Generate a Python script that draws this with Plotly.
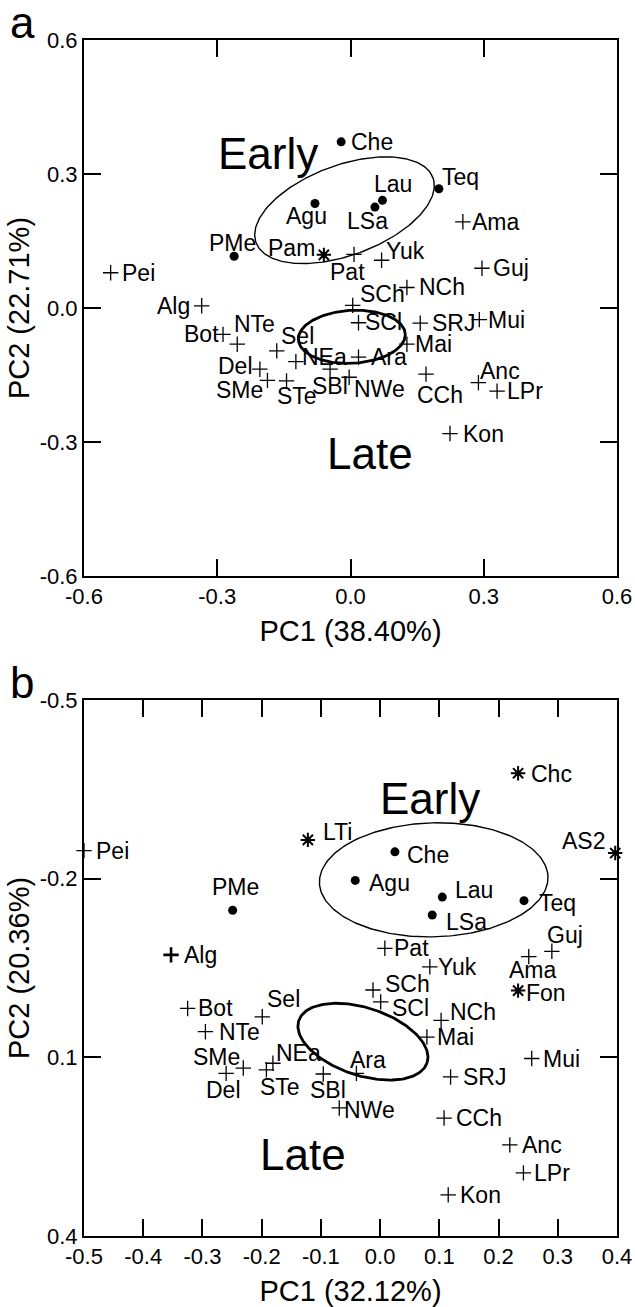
import numpy as np
import plotly.graph_objects as go
from plotly.subplots import make_subplots

# ---------------- Panel a data ----------------
a_names = ["Che", "Agu", "Lau", "LSa", "Teq", "PMe",
           "Pam",
           "Pei", "Alg", "Ama", "Pat", "Yuk", "Guj", "SCh", "NCh", "SCl", "SRJ", "Mui",
           "Bot", "NTe", "Sel", "Del", "NEa", "SBl", "NWe", "Ara", "Mai", "SMe", "STe",
           "CCh", "Anc", "LPr", "Kon"]
a_pc1 = [-0.021, -0.080, 0.072, 0.055, 0.199, -0.262,
         -0.060,
         -0.540, -0.335, 0.253, 0.008, 0.070, 0.296, 0.005, 0.127, 0.018, 0.157, 0.290,
         -0.287, -0.255, -0.166, -0.204, -0.123, -0.046, -0.003, 0.018, 0.127, -0.187, -0.144,
         0.170, 0.288, 0.330, 0.224]
a_pc2 = [0.372, 0.234, 0.241, 0.226, 0.267, 0.116,
         0.119,
         0.079, 0.005, 0.193, 0.120, 0.107, 0.089, 0.006, 0.046, -0.033, -0.034, -0.026,
         -0.059, -0.081, -0.096, -0.137, -0.120, -0.137, -0.155, -0.110, -0.081, -0.162, -0.163,
         -0.148, -0.167, -0.186, -0.281]
a_kind = ["dot"] * 6 + ["star"] + ["plus"] * 26

# ---------------- Panel b data ----------------
b_names = ["Che", "Agu", "Lau", "LSa", "Teq", "PMe",
           "LTi", "Chc", "AS2", "Fon",
           "Pei", "Alg", "Pat", "Yuk", "SCh", "SCl", "NCh", "Mai", "Bot", "NTe", "Sel",
           "SMe", "Del", "NEa", "STe", "SBl", "Ara", "SRJ", "Mui", "CCh", "Anc", "LPr",
           "Kon", "NWe", "Guj", "Ama"]
b_pc1 = [0.025, -0.042, 0.105, 0.088, 0.243, -0.249,
         -0.122, 0.233, 0.397, 0.233,
         -0.500, -0.353, 0.008, 0.084, -0.012, 0.001, 0.103, 0.079, -0.325, -0.295, -0.199,
         -0.231, -0.260, -0.181, -0.192, -0.096, -0.040, 0.119, 0.256, 0.108, 0.219, 0.242,
         0.115, -0.069, 0.290, 0.251]
b_pc2 = [-0.245, -0.197, -0.169, -0.139, -0.163, -0.147,
         -0.265, -0.377, -0.243, -0.012,
         -0.247, -0.072, -0.083, -0.052, -0.013, 0.007, 0.038, 0.066, 0.018, 0.057, 0.032,
         0.118, 0.127, 0.110, 0.121, 0.128, 0.127, 0.133, 0.102, 0.202, 0.247, 0.294,
         0.331, 0.185, -0.078, -0.069]
b_kind = ["dot"] * 6 + ["star"] * 4 + ["plus", "plus_bold"] + ["plus"] * 24

# Group ellipses: centre (PC1, PC2), semi-axes, rotation (degrees, data space)
a_early_ell = dict(cx=-0.0135, cy=0.219, a=0.212, b=0.101, ang=20)
a_late_ell = dict(cx=0.003, cy=-0.0645, a=0.1205, b=0.0593, ang=3)
b_early_ell = dict(cx=0.0905, cy=-0.198, a=0.193, b=0.0957, ang=-1.5)
b_late_ell = dict(cx=-0.029, cy=0.0737, a=0.114, b=0.0568, ang=18)

# Axis ticks
a_ticks = [-0.6, -0.3, 0.0, 0.3, 0.6]
a_ticktext = ["-0.6", "-0.3", "0.0", "0.3", "0.6"]
b_xticks = [-0.5, -0.4, -0.3, -0.2, -0.1, 0.0, 0.1, 0.2, 0.3, 0.4]
b_xticktext = ["-0.5", "-0.4", "-0.3", "-0.2", "-0.1", "0.0", "0.1", "0.2", "0.3", "0.4"]
b_yticks = [-0.5, -0.2, 0.1, 0.4]
b_yticktext = ["-0.5", "-0.2", "0.1", "0.4"]

a_xtitle, a_ytitle = "PC1 (38.40%)", "PC2 (22.71%)"
b_xtitle, b_ytitle = "PC1 (32.12%)", "PC2 (20.36%)"

# ---------------- style: label offsets (px right, px down) ----------------
a_off = {"Che": (31, 0), "Agu": (-8, 13), "Lau": (11, -16), "LSa": (-7, 14), "Teq": (22, -12),
         "PMe": (-2, -13), "Pam": (-32, -7), "Pei": (28, 0), "Alg": (-28, 0), "Ama": (33, 0),
         "Pat": (-7, 18), "Yuk": (24, -9), "Guj": (29, 0), "SCh": (30, -11), "NCh": (35, 0),
         "SCl": (25, -1), "SRJ": (33, 0), "Mui": (27, 0), "Bot": (-22, 0), "NTe": (17, -20),
         "Sel": (21, -15), "Del": (-24, -3), "NEa": (29, -5), "SBl": (0, 17), "NWe": (30, 12),
         "Ara": (30, 0), "Mai": (27, 0), "SMe": (-28, 10), "STe": (10, 15), "CCh": (14, 21),
         "Anc": (22, -12), "LPr": (28, 0), "Kon": (34, 0)}
b_off = {"Pei": (28, 0), "LTi": (30, -8), "PMe": (3, -23), "Agu": (34, 3), "Chc": (33, 1),
         "AS2": (-32, -12), "Che": (33, 3), "Lau": (32, -7), "LSa": (34, 7), "Teq": (33, 2),
         "Alg": (29, 0), "Pat": (27, 0), "Yuk": (28, 0), "SCh": (34, -6), "SCl": (30, 6),
         "NCh": (32, -8), "Mai": (29, 0), "Bot": (28, 0), "NTe": (34, 0), "Sel": (21, -18),
         "SMe": (-27, -11), "Del": (-3, 17), "NEa": (26, -10), "STe": (14, 17), "SBl": (5, 16),
         "Ara": (12, -13), "SRJ": (34, 0), "Mui": (30, 0), "CCh": (35, 0), "Anc": (32, 0),
         "LPr": (29, 0), "Kon": (32, 0), "NWe": (30, 2), "Guj": (13, -16), "Ama": (4, 13),
         "Fon": (28, 2)}

FONT = "Liberation Sans, Arial, Helvetica, sans-serif"
LABEL_SIZE = 23

fig = make_subplots(rows=2, cols=1, vertical_spacing=0.1036)

marker_style = {
    "dot": dict(symbol="circle", size=9, color="black", line=dict(width=0)),
    "plus": dict(symbol="cross-thin", size=11, color="black", line=dict(width=1.3, color="black")),
    "plus_bold": dict(symbol="cross-thin", size=11, color="black", line=dict(width=2.6, color="black")),
    "star": dict(symbol="asterisk-open", size=12, color="black", line=dict(width=2, color="black")),
}


def add_points(names, xs, ys, kinds, row):
    for kind in ["plus", "plus_bold", "star", "dot"]:
        idx = [i for i, k in enumerate(kinds) if k == kind]
        if not idx:
            continue
        fig.add_trace(go.Scatter(
            x=[xs[i] for i in idx], y=[ys[i] for i in idx], mode="markers",
            marker=marker_style[kind], hoverinfo="text",
            text=[names[i] for i in idx], showlegend=False, cliponaxis=False),
            row=row, col=1)


def add_ellipse(e, row, width):
    t = np.linspace(0, 2 * np.pi, 241)
    th = np.deg2rad(e["ang"])
    ex = e["cx"] + e["a"] * np.cos(t) * np.cos(th) - e["b"] * np.sin(t) * np.sin(th)
    ey = e["cy"] + e["a"] * np.cos(t) * np.sin(th) + e["b"] * np.sin(t) * np.cos(th)
    fig.add_trace(go.Scatter(x=ex, y=ey, mode="lines", line=dict(color="black", width=width),
                             hoverinfo="skip", showlegend=False), row=row, col=1)


add_ellipse(a_early_ell, 1, 1.4)
add_ellipse(a_late_ell, 1, 2.8)
add_ellipse(b_early_ell, 2, 1.4)
add_ellipse(b_late_ell, 2, 2.8)
add_points(a_names, a_pc1, a_pc2, a_kind, 1)
add_points(b_names, b_pc1, b_pc2, b_kind, 2)

annotations = []


def add_labels(names, xs, ys, off, xref, yref):
    for n, x, y in zip(names, xs, ys):
        dx, dy = off.get(n, (28, 0))
        annotations.append(dict(x=x, y=y, xref=xref, yref=yref, text=n, showarrow=False,
                                xanchor="center", yanchor="middle", xshift=dx, yshift=-dy,
                                font=dict(size=LABEL_SIZE, color="black", family=FONT)))


add_labels(a_names, a_pc1, a_pc2, a_off, "x", "y")
add_labels(b_names, b_pc1, b_pc2, b_off, "x2", "y2")

# group labels
for txt, x, y, xr, yr in [("Early", -0.186, 0.347, "x", "y"), ("Late", 0.044, -0.325, "x", "y"),
                          ("Early", 0.084, -0.335, "x2", "y2"), ("Late", -0.131, 0.264, "x2", "y2")]:
    annotations.append(dict(x=x, y=y, xref=xr, yref=yr, text=txt, showarrow=False,
                            xanchor="center", yanchor="middle",
                            font=dict(size=44, color="black", family=FONT)))

# panel letters
for txt, py in [("a", 1.0150), ("b", 0.4624)]:
    annotations.append(dict(x=-0.116, y=py, xref="paper", yref="paper", text=txt,
                            showarrow=False, xanchor="center", yanchor="middle",
                            font=dict(size=44, color="black", family=FONT)))

axis_common = dict(showline=True, linewidth=2, linecolor="black", mirror="ticks",
                   ticks="inside", ticklen=17, tickwidth=2, tickcolor="black",
                   showgrid=False, zeroline=False, automargin=False,
                   tickfont=dict(size=22, color="black", family=FONT))

title_font = dict(size=29, family=FONT, color="black")
fig.update_xaxes(range=[-0.6, 0.6], tickvals=a_ticks, ticktext=a_ticktext,
                 title=dict(text=a_xtitle, font=title_font, standoff=12),
                 row=1, col=1, **axis_common)
fig.update_yaxes(range=[-0.6, 0.6], tickvals=a_ticks, ticktext=a_ticktext,
                 title=dict(text=a_ytitle, font=title_font, standoff=2),
                 row=1, col=1, **axis_common)
fig.update_xaxes(range=[-0.5, 0.4], tickvals=b_xticks, ticktext=b_xticktext,
                 title=dict(text=b_xtitle, font=title_font, standoff=12),
                 row=2, col=1, **axis_common)
fig.update_yaxes(range=[0.4, -0.5], tickvals=b_yticks, ticktext=b_yticktext,
                 title=dict(text=b_ytitle, font=title_font, standoff=2),
                 row=2, col=1, **axis_common)

fig.update_layout(width=635, height=1307, margin=dict(l=84, r=18, t=40, b=71),
                  paper_bgcolor="white", plot_bgcolor="white",
                  annotations=annotations, font=dict(family=FONT, color="black"))
fig.update_yaxes(domain=[0.5518, 1.0], row=1, col=1)
fig.update_yaxes(domain=[0.0, 0.4482], row=2, col=1)

fig.write_html(
    "out.html",
    config={"displayModeBar": False, "staticPlot": True},
    post_script=("document.documentElement.style.margin='0px';"
                 "document.body.style.margin='0px';"
                 "document.documentElement.style.overflow='hidden';"
                 "document.body.style.overflow='hidden';"),
)
